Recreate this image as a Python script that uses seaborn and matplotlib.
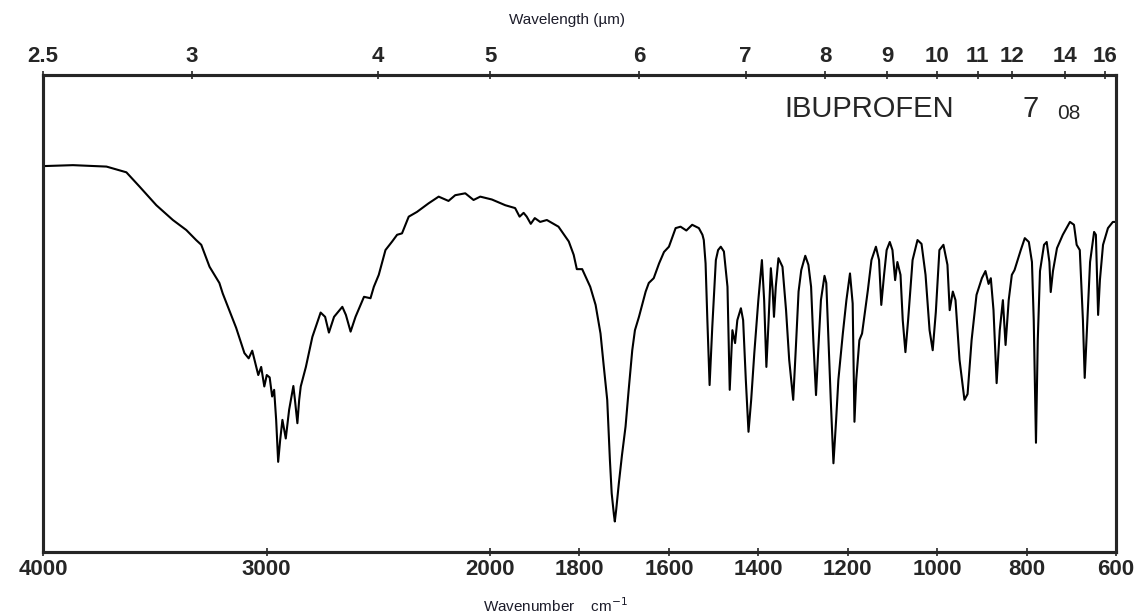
import numpy as np
import matplotlib
matplotlib.use("Agg")
import matplotlib.pyplot as plt
import seaborn as sns
import pandas as pd

# ---- data (wavenumber cm-1, relative transmittance %) ----
wavenumber = [4000, 3866, 3716, 3627, 3568, 3493, 3419, 3359, 3315, 3292,
              3255, 3211, 3196, 3136, 3099, 3080, 3064, 3037, 3024, 3010,
              2999, 2986, 2975, 2966, 2957, 2948, 2939, 2929, 2914, 2899,
              2880, 2873, 2862, 2854, 2847, 2824, 2795, 2758, 2738, 2721,
              2698, 2661, 2645, 2624, 2602, 2564, 2535, 2520, 2498, 2468,
              2438, 2416, 2394, 2364, 2327, 2275, 2230, 2186, 2156, 2111,
              2074, 2044, 1996, 1966, 1944, 1934, 1925, 1918, 1909, 1900,
              1888, 1873, 1847, 1824, 1813, 1806, 1794, 1776, 1764, 1753,
              1746, 1738, 1732, 1728, 1723, 1721, 1718, 1712, 1705, 1697,
              1690, 1682, 1676, 1667, 1652, 1645, 1634, 1622, 1611, 1600,
              1585, 1574, 1561, 1548, 1533, 1525, 1522, 1518, 1514, 1509,
              1506, 1503, 1495, 1490, 1484, 1477, 1469, 1464, 1458, 1452,
              1447, 1439, 1434, 1428, 1422, 1416, 1409, 1400, 1392, 1387,
              1382, 1377, 1372, 1368, 1365, 1361, 1355, 1346, 1338, 1331,
              1322, 1316, 1310, 1304, 1295, 1288, 1282, 1277, 1271, 1266,
              1260, 1252, 1248, 1244, 1238, 1232, 1226, 1221, 1211, 1203,
              1195, 1189, 1185, 1181, 1174, 1168, 1155, 1147, 1137, 1130,
              1125, 1119, 1113, 1106, 1100, 1094, 1089, 1082, 1077, 1071,
              1065, 1055, 1044, 1035, 1026, 1017, 1010, 1003, 995, 986,
              977, 972, 965, 959, 950, 939, 932, 923, 912, 900,
              892, 885, 880, 874, 867, 860, 853, 847, 840, 833,
              827, 820, 813, 804, 795, 788, 784, 779, 775, 770,
              761, 755, 749, 746, 741, 732, 719, 703, 694, 688,
              681, 674, 670, 665, 658, 649, 645, 640, 636, 629,
              618, 607, 600]
transmittance = [80.9, 81.1, 80.8, 79.6, 76.6, 72.7, 69.6, 67.5, 65.4, 64.4,
                 59.8, 56.4, 54.2, 47.0, 41.7, 40.6, 42.2, 37.1, 38.8, 34.7,
                 37.1, 36.6, 32.6, 34.0, 27.7, 18.9, 23.5, 27.7, 23.8, 29.8,
                 34.8, 31.9, 27.0, 31.9, 34.7, 38.8, 45.1, 50.2, 49.3, 46.0,
                 49.3, 51.4, 49.7, 46.2, 49.3, 53.5, 53.2, 55.6, 58.1, 63.3,
                 65.1, 66.5, 66.8, 70.3, 71.3, 73.1, 74.5, 73.6, 74.8, 75.2,
                 73.8, 74.5, 73.9, 72.7, 72.1, 70.3, 71.1, 70.3, 68.8, 70.0,
                 69.2, 69.6, 68.2, 65.1, 62.3, 59.3, 59.3, 55.6, 51.8, 45.8,
                 39.2, 31.9, 19.3, 12.3, 7.8, 6.4, 8.8, 14.4, 20.3, 26.3,
                 34.0, 42.3, 46.5, 49.3, 54.6, 56.4, 57.4, 60.5, 62.9, 64.0,
                 67.9, 68.2, 67.4, 68.6, 67.9, 66.5, 65.4, 60.5, 48.6, 35.0,
                 41.3, 47.2, 61.2, 63.3, 64.0, 63.0, 55.6, 34.0, 46.5, 43.8,
                 48.6, 51.1, 48.6, 36.1, 25.2, 31.9, 41.7, 52.8, 61.2, 52.8,
                 38.8, 48.6, 59.5, 54.9, 49.3, 55.6, 61.6, 59.8, 50.7, 40.3,
                 31.9, 43.0, 54.6, 59.1, 62.1, 60.2, 55.6, 44.4, 32.9, 42.3,
                 52.8, 57.9, 56.4, 46.5, 31.9, 18.6, 27.7, 36.1, 45.8, 52.8,
                 58.4, 52.1, 27.3, 36.1, 44.4, 45.8, 54.9, 61.2, 64.0, 61.2,
                 51.8, 57.9, 63.3, 65.0, 63.3, 57.0, 60.8, 58.1, 48.6, 41.9,
                 48.6, 61.2, 65.4, 64.6, 58.1, 46.5, 42.3, 50.3, 63.3, 64.4,
                 60.2, 50.7, 54.6, 52.8, 40.3, 31.9, 33.1, 44.4, 53.9, 57.4,
                 58.9, 56.2, 57.4, 50.7, 35.4, 46.5, 52.8, 43.4, 52.8, 58.1,
                 59.1, 61.2, 63.3, 65.8, 65.0, 60.8, 48.6, 22.9, 44.4, 58.9,
                 64.4, 65.0, 60.8, 54.5, 58.9, 63.7, 66.5, 69.2, 68.6, 64.4,
                 63.3, 48.6, 36.5, 46.5, 60.8, 67.1, 66.5, 49.7, 57.0, 64.4,
                 67.9, 69.2, 69.2]

bottom_ticks = [4000, 3000, 2000, 1800, 1600, 1400, 1200, 1000, 800, 600]
top_ticks_um = [2.5, 3, 4, 5, 6, 7, 8, 9, 10, 11, 12, 14, 16]
top_tick_labels = ["2.5", "3", "4", "5", "6", "7", "8", "9", "10", "11", "12", "14", "16"]

df = pd.DataFrame({"wavenumber": wavenumber, "T": transmittance})

sns.set_style("white")
plt.rcParams["font.family"] = ["Liberation Sans", "DejaVu Sans"]


# piecewise linear IR scale: 4000-2000 at half the density of 2000-600
def fwd(w):
    w = np.asarray(w, dtype=float)
    return np.where(w <= 2000, w, 2000 + (w - 2000) / 2.0)


def inv(u):
    u = np.asarray(u, dtype=float)
    return np.where(u <= 2000, u, 2000 + (u - 2000) * 2.0)


fig = plt.figure(figsize=(11.35, 6.16), dpi=100)
ax = fig.add_axes([43 / 1135, 1 - 552 / 616, (1116 - 43) / 1135, (552 - 75) / 616])

sns.lineplot(data=df, x="wavenumber", y="T", sort=False, estimator=None,
             color="black", linewidth=1.5, ax=ax)

ax.set_xscale("function", functions=(fwd, inv))
ax.set_xlim(4000, 600)
ax.set_ylim(0, 100)
ax.set_yticks([])
ax.set_xlabel("")
ax.set_ylabel("")
ax.set_xticks(bottom_ticks)
ax.set_xticklabels([str(t) for t in bottom_ticks], fontsize=16, fontweight="bold")
ax.xaxis.set_minor_locator(matplotlib.ticker.NullLocator())
ax.tick_params(axis="x", direction="inout", length=6, width=1.2, pad=2, bottom=True)
for s in ax.spines.values():
    s.set_linewidth(2.2)
    s.set_color("black")

ax2 = ax.twiny()
ax2.set_xscale("function", functions=(fwd, inv))
ax2.set_xlim(4000, 600)
ax2.set_xticks([10000.0 / l for l in top_ticks_um])
ax2.set_xticklabels(top_tick_labels, fontsize=16, fontweight="bold")
ax2.xaxis.set_minor_locator(matplotlib.ticker.NullLocator())
ax2.tick_params(axis="x", direction="inout", length=6, width=1.2, pad=2.5, top=True)
for s in ax2.spines.values():
    s.set_linewidth(2.2)

fig.text(567 / 1135, 1 - 20 / 616, "Wavelength (µm)", ha="center", va="center",
         fontsize=11, color="#1c1c2a")
fig.text(555 / 1135, 1 - 606 / 616, "Wavenumber    cm$^{-1}$", ha="center", va="center",
         fontsize=11, color="#1c1c2a")

fig.text(784 / 1135, 1 - 117 / 616, "IBUPROFEN", ha="left", va="baseline", fontsize=21)
fig.text(1022 / 1135, 1 - 117 / 616, "7", ha="left", va="baseline", fontsize=21)
fig.text(1057 / 1135, 1 - 119 / 616, "08", ha="left", va="baseline", fontsize=15)

fig.savefig("out.png", dpi=100, facecolor="white")
